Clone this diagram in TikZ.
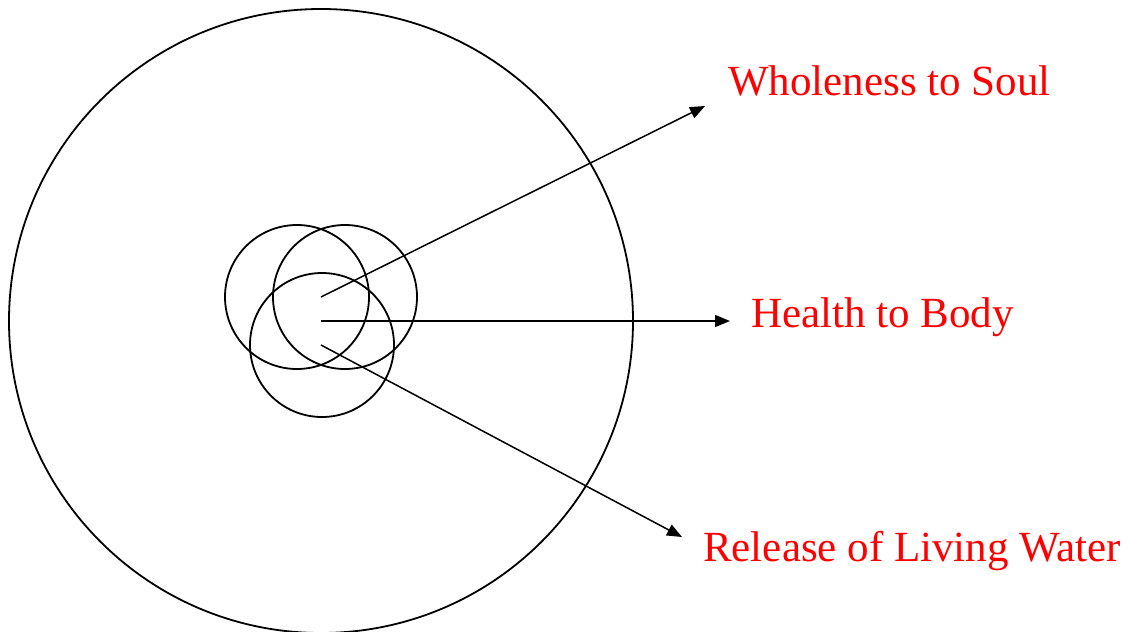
\documentclass[tikz,border=0pt]{standalone}
\usepackage{fontspec}
\setmainfont{Liberation Serif}
\usetikzlibrary{arrows.meta}
\begin{document}
\begin{tikzpicture}[x=1pt,y=-1pt,
  ring/.style={draw=black,line width=1.8pt},
  ptr/.style={draw=black,line width=1.5pt,-{Triangle[length=15pt,width=12pt]}},
  lbl/.style={anchor=base west,inner sep=0pt,text=red,font=\fontsize{43}{49}\selectfont}]
\useasboundingbox (0,0) rectangle (1128,632);
\draw[ring] (321,321) circle[radius=312];
\draw[ring] (297,297) circle[radius=72];
\draw[ring] (345,297) circle[radius=72];
\draw[ring] (322,345) circle[radius=72];
\coordinate (s1) at (321,297);
\coordinate (s2) at (321,321);
\coordinate (s3) at (321,345);
\coordinate (t1) at (705,106);
\coordinate (t2) at (730,321);
\coordinate (t3) at (682,537);
\node[lbl] (l1) at (728,95) {Wholeness to Soul};
\node[lbl] (l2) at (751,327) {Health to Body};
\node[lbl] (l3) at (703,561) {Release of Living Water};
\draw[ptr] (s1) -- (t1);
\draw[ptr] (s2) -- (t2);
\draw[ptr] (s3) -- (t3);
\end{tikzpicture}
\end{document}
